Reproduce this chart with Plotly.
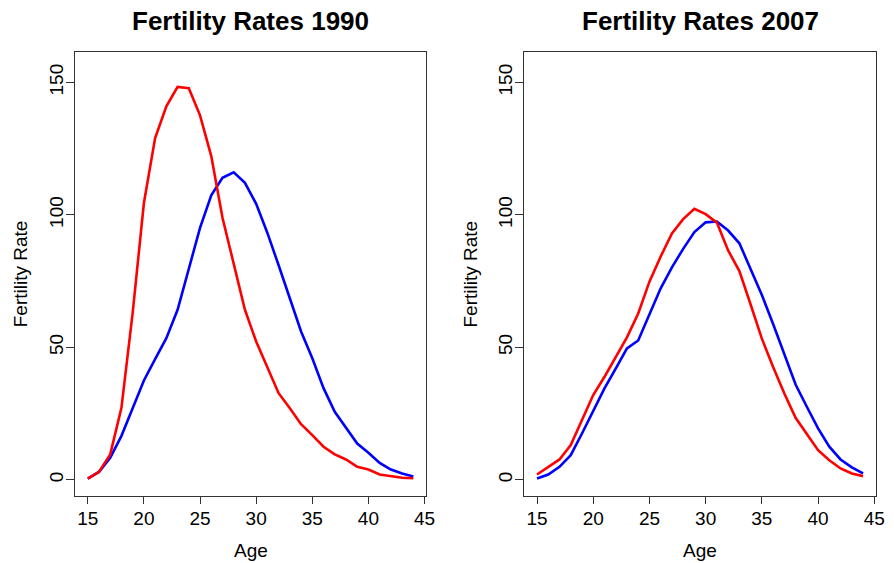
import plotly.graph_objects as go

ages = list(range(15, 45))

red_1990 = [0.5, 3, 9.6, 27.2, 63, 104.5, 129, 141, 148.3, 147.8, 137.6, 122.2, 98.9, 81.6, 64.2,
            52.2, 42.7, 32.7, 27, 21, 16.9, 12.5, 9.6, 7.7, 4.9, 3.9, 2, 1.5, 0.8, 0.6]
blue_1990 = [0.5, 3, 8.3, 16.6, 27, 37.5, 45.6, 53.5, 64.2, 80, 95.1, 107.4, 114, 116.1, 112.1,
             104.2, 93.2, 81, 68.3, 56, 45.9, 34.6, 25.7, 19.7, 13.7, 10.2, 6.4, 3.9, 2.4, 1.3]
red_2007 = [2, 4.7, 7.7, 13.1, 22.5, 32, 38.9, 46.5, 53.8, 62.8, 74.8, 84.3, 93, 98.4, 102.3,
            100.3, 97.1, 86.6, 78.8, 66.2, 53.3, 42.6, 32.6, 23.4, 17.1, 11.2, 7.4, 4.3, 2.4, 1.4]
blue_2007 = [0.5, 2, 4.9, 9.3, 17.5, 26.3, 34.5, 42, 49.6, 52.6, 62.8, 72.3, 80.2, 87.2, 93.5,
             97.2, 97.5, 94.1, 89.3, 79.8, 69.8, 58.8, 47.4, 36, 27.6, 19.4, 12.5, 7.7, 4.7, 2.4]

titles = ["Fertility Rates 1990", "Fertility Rates 2007"]
x_ticks = [15, 20, 25, 30, 35, 40, 45]
y_ticks = [0, 50, 100, 150]

W, H = 894, 563
FONT = "Liberation Sans, Arial, sans-serif"

fig = go.Figure()
fig.add_trace(go.Scatter(x=ages, y=blue_1990, mode="lines", line=dict(color="#0000FF", width=2.6),
                         xaxis="x", yaxis="y", showlegend=False))
fig.add_trace(go.Scatter(x=ages, y=red_1990, mode="lines", line=dict(color="#FF0000", width=2.6),
                         xaxis="x", yaxis="y", showlegend=False))
fig.add_trace(go.Scatter(x=ages, y=blue_2007, mode="lines", line=dict(color="#0000FF", width=2.6),
                         xaxis="x2", yaxis="y2", showlegend=False))
fig.add_trace(go.Scatter(x=ages, y=red_2007, mode="lines", line=dict(color="#FF0000", width=2.6),
                         xaxis="x2", yaxis="y2", showlegend=False))

boxes = [(75.5, 430.7), (529.3, 885.0)]
ytop, ybot = 52, 496
ydom = [1 - ybot / H, 1 - ytop / H]

common_x = dict(range=[13.84, 45.16], tickvals=x_ticks, showgrid=False, zeroline=False,
                showline=True, mirror=True, linecolor="#333333", linewidth=1,
                ticks="outside", ticklen=7, tickcolor="#333333",
                tickfont=dict(family=FONT, size=19, color="black"), ticklabelstandoff=-2)
common_y = dict(range=[-6.1, 161.5], tickvals=y_ticks, showgrid=False, zeroline=False,
                showline=True, mirror=True, linecolor="#333333", linewidth=1,
                ticks="outside", ticklen=8, tickcolor="#333333", tickangle=-90,
                tickfont=dict(family=FONT, size=19, color="black"), ticklabelstandoff=-5)

layout = dict(width=W, height=H, margin=dict(l=0, r=0, t=0, b=0),
              plot_bgcolor="white", paper_bgcolor="white", showlegend=False)
layout["xaxis"] = dict(common_x, domain=[boxes[0][0] / W, boxes[0][1] / W], anchor="y")
layout["yaxis"] = dict(common_y, domain=ydom, anchor="x")
layout["xaxis2"] = dict(common_x, domain=[boxes[1][0] / W, boxes[1][1] / W], anchor="y2")
layout["yaxis2"] = dict(common_y, domain=ydom, anchor="x2")

annotations = []
for i, (l, r) in enumerate(boxes):
    cx = (l + r) / 2
    annotations.append(dict(text="<b>" + titles[i] + "</b>", x=cx / W, y=1 - 20.5 / H,
                            xref="paper", yref="paper", xanchor="center", yanchor="middle",
                            showarrow=False, font=dict(family=FONT, size=26, color="black")))
    annotations.append(dict(text="Age", x=cx / W, y=1 - 550 / H, xref="paper", yref="paper",
                            xanchor="center", yanchor="middle", showarrow=False,
                            font=dict(family=FONT, size=19, color="black")))
    annotations.append(dict(text="Fertility Rate", x=(l - 55) / W, y=1 - 274 / H, xref="paper",
                            yref="paper", xanchor="center", yanchor="middle", textangle=-90,
                            showarrow=False, font=dict(family=FONT, size=19, color="black")))
layout["annotations"] = annotations

fig.update_layout(**layout)
fig.write_html("out.html", config={"displayModeBar": False},
               post_script="document.body.style.margin='0';document.body.style.padding='0';")
